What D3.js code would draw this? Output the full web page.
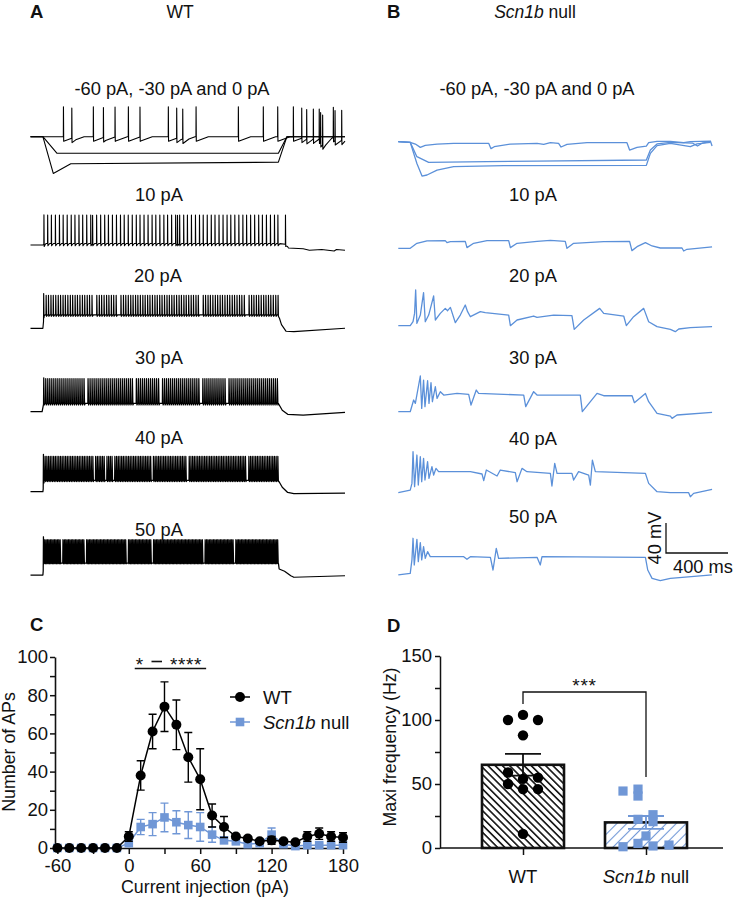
<!DOCTYPE html>
<html><head><meta charset="utf-8">
<script src="https://cdn.jsdelivr.net/npm/d3@7"></script>
<style>
body{margin:0;background:#fff}
svg{display:block}
text{font-family:"Liberation Sans",Arial,Helvetica,sans-serif;fill:#111}
</style></head>
<body><svg id="fig" width="734" height="900"></svg>
<script>
// ================= DATA =================
// Panel A / B labels
const panelTitles = ["WT", "Scn1b null"];
const stepLabels = ["-60 pA, -30 pA and 0 pA", "10 pA", "20 pA", "30 pA", "40 pA", "50 pA"];

// Panel A (WT) traces: baseline key points [ms, mV relative to rest], spike times (ms)
const wtBase0pA = [[0,0],[2030,0]];
const wtSpikes0pA = [212,266,405,470,545,631,706,889,943,982,1068,1341,1502,1595,1696,1750,1782,1825,1863,1872,1885,1954,1965,2008];
const wtBaseM30 = [[0,0],[80,0],[170,-22],[1600,-22],[1655,0],[2030,0]];
const wtBaseM60 = [[0,0],[80,0],[147,-49],[260,-36],[1600,-34],[1655,0],[2030,0]];

const wtBase10 = [[0,0],[80,0],[95,2],[1600,2],[1650,1],[1665,-4],[1760,-5],[1800,-7],[1880,-6],[1960,-8],[1975,-6],[2030,-7]];
const wtSpikes10 = [86,110,134,160,186,210,236,262,286,312,336,362,388,400,426,452,478,502,528,554,580,604,630,656,682,706,732,758,784,808,834,860,884,910,936,948,962,988,1012,1038,1064,1090,1114,1140,1166,1190,1216,1242,1268,1292,1318,1344,1370,1394,1420,1446,1472,1496,1522,1548,1574,1596,1645];

const wtBase20 = [[0,0],[80,0],[88,18],[1600,18],[1620,5],[1650,-4],[1700,-4.5],[2030,0]];
const wtSpikes20 = [84,100,115,131,146,162,178,193,209,224,240,256,271,287,302,318,334,349,365,380,396,427,443,458,474,490,505,521,536,552,583,599,614,630,646,661,677,692,708,724,739,755,770,786,802,817,833,848,864,880,895,911,926,942,958,973,989,1004,1020,1036,1051,1067,1082,1114,1129,1145,1160,1176,1192,1207,1223,1238,1254,1270,1285,1301,1316,1332,1348,1363,1379,1410,1426,1441,1457,1472,1488,1504,1519,1535,1550,1566,1582,1597];

const wtBase30 = [[0,0],[75,0],[85,11],[1600,11],[1625,2],[1660,-3.5],[1760,-4.5],[2030,-1]];
const wtSpikes30 = [84,97,110,123,136,149,162,175,188,201,214,227,240,253,266,279,292,305,318,331,344,370,383,396,409,422,435,448,461,474,487,500,513,526,539,552,565,578,591,604,617,630,643,656,682,695,708,721,734,747,760,773,786,799,812,825,851,864,877,890,903,916,929,942,955,968,981,994,1007,1020,1033,1046,1059,1072,1085,1111,1124,1137,1150,1163,1176,1189,1202,1215,1228,1241,1254,1280,1293,1306,1319,1332,1345,1358,1371,1384,1397,1410,1423,1436,1449,1462,1475,1488,1501,1514,1527,1540,1553,1566,1579,1592];

const wtBase40 = [[0,0],[80,0],[88,15],[1600,15],[1625,6],[1660,-1],[1700,-2.5],[2030,-2]];
const wtSpikes40 = [82,93,104,115,126,137,148,159,170,181,192,203,214,225,236,247,258,269,280,291,302,313,324,335,346,357,368,379,390,401,419,430,441,452,463,474,492,503,514,525,543,554,565,576,587,598,609,620,631,642,653,664,675,686,697,708,719,730,741,752,763,774,792,803,814,825,836,847,858,869,880,891,902,913,924,935,946,957,968,979,990,1001,1023,1034,1045,1056,1067,1078,1089,1100,1111,1122,1133,1144,1155,1166,1177,1188,1199,1210,1221,1232,1243,1254,1265,1276,1287,1298,1309,1320,1331,1342,1353,1364,1375,1386,1408,1419,1430,1441,1452,1463,1474,1485,1496,1507,1518,1529,1540,1551,1562,1573,1584,1595];

const wtBase50 = [[0,0],[80,0],[86,16],[1600,16],[1605,8],[1640,5],[1680,-1],[1700,-3],[2030,-1]];
const wtSpikes50 = [82,91,100,109,118,127,136,145,154,163,172,181,190,208,217,226,235,244,253,262,271,280,289,298,307,316,325,334,343,361,370,379,388,397,406,415,424,433,442,451,460,469,478,487,496,505,514,523,532,541,550,559,568,577,586,595,604,613,631,640,649,658,667,676,685,694,703,712,721,730,739,748,757,766,775,793,802,811,820,829,838,847,856,865,874,883,892,901,910,919,928,937,946,955,964,973,982,991,1000,1009,1018,1027,1036,1045,1054,1063,1072,1081,1090,1099,1108,1126,1135,1144,1153,1162,1171,1180,1189,1198,1207,1216,1225,1234,1243,1252,1261,1270,1279,1288,1297,1306,1324,1333,1342,1351,1360,1369,1378,1387,1396,1405,1414,1423,1432,1441,1450,1459,1468,1477,1486,1495,1504,1513,1522,1531,1540,1549,1558,1567,1576,1585,1594];

// Panel B (Scn1b null) traces: key points [ms, mV relative to rest]
const nullTrace0pA = [[0,0],[77,-0.9],[110,-3.1],[142,-7.6],[174,-4.9],[250,-3.1],[357,-2.2],[583,-2.2],[598,-9.3],[619,-6.7],[723,-3.1],[895,-2.2],[938,-3.6],[981,-1.3],[1034,-2.2],[1050,-7.1],[1088,-3.6],[1217,-1.3],[1475,-1.3],[1492,-11.1],[1540,-7.6],[1600,-5.8],[1615,-1.3],[1669,0.4],[1755,0.4],[1841,-1.3],[1884,0],[2013,0.9],[2024,-5.8]];
const nullTraceM30 = [[0,0],[77,-0.9],[120,-20],[196,-27.6],[572,-26.7],[895,-25.8],[1600,-24.4],[1626,-11],[1669,-3],[1755,-1],[1900,-2],[1930,-5.8],[1960,-2],[2013,0]];
const nullTraceM60 = [[0,0],[77,-0.9],[120,-29],[153,-45.8],[185,-44.4],[250,-37.8],[357,-33.3],[680,-32],[1600,-31.6],[1626,-15.6],[1669,-5.3],[1755,-2.2],[1884,-6.7],[1927,-3],[2013,-0.9]];
const nullTrace10 = [[0,0],[77,0],[120,6.7],[185,9.8],[303,10.2],[314,7.6],[336,8.9],[432,9.3],[443,0.9],[486,6.7],[572,10.2],[712,10.2],[723,0.9],[766,6.7],[895,9.3],[981,10.7],[1077,9.3],[1088,0],[1131,6.7],[1325,8.9],[1492,9.3],[1507,-3.1],[1540,2.2],[1594,7.6],[1637,3.1],[1690,0.4],[1830,0.4],[1841,-3.6],[1862,-1.3],[2024,1.8]];
const nullTrace20 = [[0,0],[77,0],[95,5.3],[105,16.4],[112,47.6],[120,3.1],[142,14.2],[163,44],[174,5.3],[196,14.2],[228,39.6],[239,7.6],[271,16.4],[303,23.1],[318,20],[336,24.4],[368,4],[400,14.2],[432,27.6],[447,18.7],[465,12],[529,18.7],[561,17.3],[712,14.2],[723,0],[766,7.6],[873,12.9],[895,11.1],[1002,14.2],[1120,13.3],[1135,-4.9],[1196,7.6],[1299,23.1],[1325,16.4],[1454,12.9],[1471,0],[1518,12],[1583,23.1],[1615,5.3],[1669,-1.3],[1755,-4.9],[1787,-8],[1809,-4.4],[1884,-2.7],[2024,-1.3]];
const nullTrace30 = [[0,0],[77,0],[99,15.6],[110,11.1],[142,47.6],[151,4.4],[163,42.2],[172,6.7],[189,41.3],[198,11.1],[211,38.7],[220,13.3],[239,33.3],[250,17.8],[271,26.7],[293,22.2],[379,24.4],[454,23.1],[469,8.9],[503,28.9],[518,24.4],[809,22.2],[822,6.7],[873,26.7],[895,22.2],[1174,22.2],[1187,0],[1282,24.4],[1325,21.3],[1508,21.3],[1523,12],[1594,24.4],[1615,13.3],[1669,-2.2],[1755,-5.8],[1766,-8.9],[1798,-4.4],[2024,-0.9]];
const nullTrace40 = [[0,-1.3],[77,2.2],[88,11.1],[95,53.3],[105,6.7],[120,48.9],[129,8.9],[142,46.7],[151,13.3],[163,44.4],[172,15.6],[189,40],[198,17.8],[217,33.3],[228,22.2],[243,31.1],[260,26.7],[465,26.7],[540,23.6],[551,14.7],[568,28.9],[637,20.9],[658,28.9],[755,25.3],[766,13.3],[798,31.1],[830,26.7],[981,24.4],[991,7.6],[1009,37.8],[1024,24.4],[1120,24.4],[1131,15.6],[1163,26.7],[1228,22.2],[1239,8.9],[1252,42.2],[1271,26.7],[1594,24.4],[1615,11.1],[1669,0],[1755,-1.3],[1873,-1.3],[1884,-6.7],[1905,-2.2],[2024,3.1]];
const nullTrace50 = [[0,-2.2],[77,0],[88,17.8],[95,46.7],[103,11.1],[120,45.3],[129,15.6],[142,40.9],[151,17.8],[163,35.6],[174,20],[189,28.9],[206,22.2],[422,22.2],[443,18.7],[465,22.2],[594,21.3],[611,4.4],[632,33.3],[647,20],[895,21.3],[916,11.1],[927,22.2],[1594,21.3],[1609,4.4],[1637,-6.7],[1690,-9.8],[1755,-6.7],[2024,-2.2]];

// Scale bar
const scaleBarMV = 40, scaleBarMS = 400;

// Panel C
const currentSteps = [-60,-50,-40,-30,-20,-10,0,10,20,30,40,50,60,70,80,90,100,110,120,130,140,150,160,170,180];
const wtAPs   = [0,0,0,0,0,0,6,38,61,74,64.5,47.5,36,17,11,6,5,3.5,4,3.5,3,6,7.5,6,5.5];
const wtAPsSEM= [0,0,0,0,0,0,2.5,7.7,9,13,13,13,16,6,5.5,1,1,1,2,1,1,2.5,3,2.5,2.5];
const nullAPs = [0,0,0,0,0,0,2.5,11,12.5,16,13.5,12,11,7,4,3.5,2,2.5,7,2,1,1.5,1.5,1.5,1.5];
const nullAPsSEM=[0,0,0,0,0,0,1,4,6,7.5,6,7,7.5,4,1.5,1,1,1,3.5,1,1,1,1,1,1];
const cTickLabelsX = [-60,0,60,120,180];
const cTickLabelsY = [0,20,40,60,80,100];
const cSignif = ["*", "****"];

// Panel D
const groups = ["WT","Scn1b null"];
const maxFreqMean = [65, 20];
const maxFreqSEM = [8.5, 5];
const wtCellFreq = [100,104,100,88,59,54,55,50,46,46,11];
const nullCellFreq = [44.5,46,40.6,26,20.6,22.4,9.4,1,3.6,1.6,2.3];
const dTickLabelsY = [0,50,100,150];
const dSignif = "***";

// ================= LAYOUT =================
const BLUE_TRACE = "#5b90d9", BLUE = "#7097d6";
const wtJitter = [-15,0,15,0,-15,0,15,-15,0,15,0];
const nullJitter = [-23,-8,-8,7,7,-8,0,-23,-8,7,23];
const restYA = [136.7,245,328.3,411.7,491.7,575];
const restYB = [141.7,248.3,325.7,411.7,491.7,573.3];
const labelA = [[172,95],[159,200.7],[158,281.7],[159,364],[159,444.3],[159,536]];
const labelB = [[537,95],[533,200.7],[533,281.7],[533,364],[533,445],[533,523.3]];

const svg = d3.select("#fig");
const defs = svg.append("defs");

function addText(x,y,s,o={}){
  const t = svg.append("text").attr("x",x).attr("y",y).text(s)
    .attr("font-size",o.size||18).attr("text-anchor",o.anchor||"start");
  if(o.weight) t.attr("font-weight",o.weight);
  if(o.ls) t.attr("letter-spacing",o.ls);
  return t;
}
function addScn(x,y,o={}){
  const t = svg.append("text").attr("x",x).attr("y",y).attr("font-size",o.size||18).attr("text-anchor",o.anchor||"start");
  t.append("tspan").attr("font-style","italic").text("Scn1b");
  t.append("tspan").text(" null");
  return t;
}

// panel letters
[["A",30,18],["B",387,18],["C",30,631],["D",387,632]].forEach(d=>addText(d[1],d[2],d[0],{size:18.5,weight:"bold"}));

// titles
addText(180,18,panelTitles[0],{size:17.5,anchor:"middle"});
addScn(535,18,{size:17.5,anchor:"middle"});

// ================= TRACES =================
const xA = d3.scaleLinear().domain([0,2030]).range([30.5,345]);
const xB = d3.scaleLinear().domain([0,2030]).range([398.3,713]);
const mv = rest => d3.scaleLinear().domain([0,40]).range([rest,rest-30]);

function spikeTrace(base, spikes, peak, ahp, rec, rise, fall){
  const b = d3.scaleLinear().domain(base.map(d=>d[0])).range(base.map(d=>d[1])).clamp(true);
  const tEnd = base[base.length-1][0];
  const set = new Set(base.map(d=>d[0]));
  const tf = rise + fall;
  spikes.forEach(s=>{[s,s+rise,s+tf,s+rec].forEach(t=>set.add(t));});
  const times = [...set].filter(t=>t>=0&&t<=tEnd).sort((a,c)=>a-c);
  return times.map(t=>{
    let v=b(t), j=d3.bisectRight(spikes,t)-1;
    while(j>=0 && t-spikes[j]<rec){
      const d=t-spikes[j], A=peak-b(spikes[j]);
      if(d<rise) v+=A*d/rise;
      else if(d<tf) v+=A-(A+ahp)*(d-rise)/fall;
      else v-=ahp*(1-(d-tf)/(rec-tf));
      j--;
    }
    return [t,v];
  });
}

const wtSpecs = [
  {row:0, base:wtBaseM60, spikes:[], peak:0, ahp:0, rec:3, rise:0.7, fall:1.3, w:1.1},
  {row:0, base:wtBaseM30, spikes:[], peak:0, ahp:0, rec:3, rise:0.7, fall:1.3, w:1.1},
  {row:0, base:wtBase0pA, spikes:wtSpikes0pA, peak:40, ahp:6, rec:80, rise:0.7, fall:1.5, w:1.1},
  {row:1, base:wtBase10, spikes:wtSpikes10, peak:40, ahp:3, rec:14, rise:0.8, fall:1.6, w:1.1},
  {row:2, base:wtBase20, spikes:wtSpikes20, peak:44, ahp:2, rec:10, rise:1, fall:2.2, w:1.15},
  {row:3, base:wtBase30, spikes:wtSpikes30, peak:44, ahp:2, rec:9, rise:1.5, fall:3.5, w:1.25},
  {row:4, base:wtBase40, spikes:wtSpikes40, peak:47, ahp:1.5, rec:8, rise:1.5, fall:3.5, w:1.25},
  {row:5, base:wtBase50, spikes:wtSpikes50, peak:47, ahp:1, rec:7, rise:1.5, fall:3.5, w:1.25}
];
const gA = svg.append("g");
wtSpecs.forEach(s=>{
  const y = mv(restYA[s.row]);
  const pts = spikeTrace(s.base, s.spikes, s.peak, s.ahp, s.rec, s.rise, s.fall);
  gA.append("path").attr("d", d3.line().x(d=>xA(d[0])).y(d=>y(d[1]))(pts))
    .attr("fill","none").attr("stroke","#000").attr("stroke-width",s.w).attr("stroke-linejoin","round");
});

const nullSpecs = [
  {row:0, pts:nullTraceM60},{row:0, pts:nullTraceM30},{row:0, pts:nullTrace0pA},
  {row:1, pts:nullTrace10},{row:2, pts:nullTrace20},{row:3, pts:nullTrace30},
  {row:4, pts:nullTrace40},{row:5, pts:nullTrace50}
];
const gB = svg.append("g");
nullSpecs.forEach(s=>{
  const y = mv(restYB[s.row]);
  gB.append("path").attr("d", d3.line().x(d=>xB(d[0])).y(d=>y(d[1]))(s.pts))
    .attr("fill","none").attr("stroke",BLUE_TRACE).attr("stroke-width",1.3).attr("stroke-linejoin","round");
});

stepLabels.forEach((s,i)=>{
  addText(labelA[i][0],labelA[i][1],s,{anchor:"middle",size:18.3});
  addText(labelB[i][0],labelB[i][1],s,{anchor:"middle",size:18.3});
});

// scale bar (drawn in panel B units)
{
  const y = mv(553);
  const x0 = 666, x1 = x0 + (xB(scaleBarMS)-xB(0));
  svg.append("path").attr("d",`M${x0},${y(scaleBarMV)}V${y(0)}H${x1}`)
    .attr("fill","none").attr("stroke","#111").attr("stroke-width",1.3);
  addText(0,0,`${scaleBarMV} mV`,{anchor:"middle",size:18.3}).attr("transform",`translate(661,${(y(0)+y(scaleBarMV))/2}) rotate(-90)`);
  addText(703,573,`${scaleBarMS} ms`,{anchor:"middle",size:18.3});
}

// ================= PANEL C =================
const xC = d3.scaleLinear().domain([-62,180]).range([55,343]);
const yC = d3.scaleLinear().domain([0,100]).range([848,657]);
const gC = svg.append("g");
function styleAxis(g){
  g.attr("font-family",null).attr("font-size",null);
  g.selectAll("path,line").attr("stroke","#111").attr("stroke-width",1.5);
  g.selectAll("text").attr("font-size",18.5).attr("fill","#111");
}
gC.append("g").attr("transform",`translate(0,${yC(0)})`)
  .call(d3.axisBottom(xC).tickValues([-60,-30,0,30,60,90,120,150,180])
    .tickFormat(d=>cTickLabelsX.includes(d)?String(d):"").tickSize(6).tickSizeOuter(0).tickPadding(5))
  .call(styleAxis);
gC.append("g").attr("transform",`translate(${xC(-62)},0)`)
  .call(d3.axisLeft(yC).tickValues([0,10,20,30,40,50,60,70,80,90,100])
    .tickFormat(d=>cTickLabelsY.includes(d)?String(d):"").tickSize(5).tickPadding(2).tickSizeOuter(0))
  .call(styleAxis);
gC.selectAll(".domain").attr("stroke-width",1.6);

function drawSeries(vals, sems, color, shape){
  const g = gC.append("g");
  const pts = currentSteps.map((c,i)=>({x:xC(c), v:vals[i], s:sems[i]}));
  pts.forEach(p=>{
    if(p.s>0.4){
      const y1=yC(p.v+p.s), y0=yC(Math.max(0,p.v-p.s));
      g.append("path").attr("d",`M${p.x},${y0}V${y1}M${p.x-4},${y1}H${p.x+4}M${p.x-4},${y0}H${p.x+4}`)
        .attr("stroke",color).attr("stroke-width",1.4).attr("fill","none");
    }
  });
  g.append("path").attr("d",d3.line().x(p=>p.x).y(p=>yC(p.v))(pts))
    .attr("fill","none").attr("stroke",color).attr("stroke-width",1.5);
  pts.forEach(p=>{
    if(shape==="circle") g.append("circle").attr("cx",p.x).attr("cy",yC(p.v)).attr("r",5).attr("fill",color);
    else g.append("rect").attr("x",p.x-4.3).attr("y",yC(p.v)-4.3).attr("width",8.6).attr("height",8.6).attr("fill",color);
  });
}
drawSeries(nullAPs,nullAPsSEM,BLUE,"square");
drawSeries(wtAPs,wtAPsSEM,"#000","circle");

// significance: "* – ****" over 10–60 pA
gC.append("line").attr("x1",xC(5)).attr("x2",xC(65)).attr("y1",668.5).attr("y2",668.5).attr("stroke","#111").attr("stroke-width",1.4);
addText(139.5,671,cSignif[0],{anchor:"middle",size:19});
gC.append("line").attr("x1",151.5).attr("x2",162).attr("y1",661.5).attr("y2",661.5).attr("stroke","#111").attr("stroke-width",1.6);
addText(170,671,cSignif[1],{anchor:"start",size:19,ls:0.6});

// legend
gC.append("line").attr("x1",230).attr("x2",250).attr("y1",697).attr("y2",697).attr("stroke","#000").attr("stroke-width",1.5);
gC.append("circle").attr("cx",240).attr("cy",697).attr("r",5).attr("fill","#000");
addText(263,703.5,"WT",{size:18.5});
gC.append("line").attr("x1",230).attr("x2",250).attr("y1",722).attr("y2",722).attr("stroke",BLUE).attr("stroke-width",1.5);
gC.append("rect").attr("x",235.7).attr("y",717.7).attr("width",8.6).attr("height",8.6).attr("fill",BLUE);
addScn(263,728.5,{size:18.5});

// axis titles
addText(0,0,"Number of APs",{anchor:"middle",size:17.8}).attr("transform","translate(15,752) rotate(-90)");
addText(205,893,"Current injection (pA)",{anchor:"middle",size:17.8});

// ================= PANEL D =================
const yD = d3.scaleLinear().domain([0,150]).range([848,656]);
const xD = d3.scalePoint().domain(groups).range([523,646]);
const barW = 82;
const gD = svg.append("g");

const hatch = (id,rot,color,w,sp)=>{
  defs.append("pattern").attr("id",id).attr("patternUnits","userSpaceOnUse")
    .attr("width",sp).attr("height",sp).attr("patternTransform",`rotate(${rot})`)
    .append("line").attr("x1",sp/2).attr("x2",sp/2).attr("y1",0).attr("y2",sp)
    .attr("stroke",color).attr("stroke-width",w);
};
hatch("hWT",-45,"#000",1.5,5.1);
hatch("hNull",45,BLUE,1.1,7);

gD.append("g").attr("transform",`translate(440,0)`)
  .call(d3.axisLeft(yD).tickValues([0,25,50,75,100,125,150])
    .tickFormat(d=>dTickLabelsY.includes(d)?String(d):"").tickSize(5).tickPadding(3).tickSizeOuter(0))
  .call(styleAxis);
gD.append("g").attr("transform",`translate(0,${yD(0)})`)
  .call(d3.axisBottom(xD).tickSize(7).tickFormat("").tickSizeOuter(0))
  .call(styleAxis).call(g=>g.select(".domain").remove());
gD.append("line").attr("x1",440).attr("x2",723).attr("y1",yD(0)).attr("y2",yD(0)).attr("stroke","#111").attr("stroke-width",1.6);

groups.forEach((gname,i)=>{
  const cx = xD(gname);
  gD.append("rect").attr("x",cx-barW/2).attr("y",yD(maxFreqMean[i])).attr("width",barW)
    .attr("height",yD(0)-yD(maxFreqMean[i])).attr("fill","#fff");
  gD.append("rect").attr("x",cx-barW/2).attr("y",yD(maxFreqMean[i])).attr("width",barW)
    .attr("height",yD(0)-yD(maxFreqMean[i])).attr("fill",`url(#${i===0?"hWT":"hNull"})`)
    .attr("stroke","#111").attr("stroke-width",2.6);
  const col = i===0?"#111":BLUE;
  const yt=yD(maxFreqMean[i]+maxFreqSEM[i]), yb=yD(maxFreqMean[i]-maxFreqSEM[i]);
  gD.append("path").attr("d",`M${cx},${yb}V${yt}M${cx-18},${yt}H${cx+18}M${cx-18},${yb}H${cx+18}`)
    .attr("stroke",col).attr("stroke-width",1.8).attr("fill","none");
});
wtCellFreq.forEach((v,i)=>{
  gD.append("circle").attr("cx",xD("WT")+wtJitter[i]).attr("cy",yD(v)).attr("r",5.2).attr("fill","#000");
});
nullCellFreq.forEach((v,i)=>{
  gD.append("rect").attr("x",xD("Scn1b null")+nullJitter[i]-4.6).attr("y",yD(v)-4.6)
    .attr("width",9.2).attr("height",9.2).attr("fill",BLUE);
});
// bracket
gD.append("path").attr("d",`M${xD("WT")},704V692H${xD("Scn1b null")}V777`)
  .attr("fill","none").attr("stroke","#111").attr("stroke-width",1.3);
addText((xD("WT")+xD("Scn1b null"))/2,692,dSignif,{anchor:"middle",size:19,ls:0.8});

addText(xD("WT"),883,"WT",{anchor:"middle",size:18.5});
addScn(xD("Scn1b null"),883,{anchor:"middle",size:18.5});
addText(0,0,"Maxi frequency (Hz)",{anchor:"middle",size:17.8}).attr("transform","translate(396,747) rotate(-90)");
</script></body></html>
